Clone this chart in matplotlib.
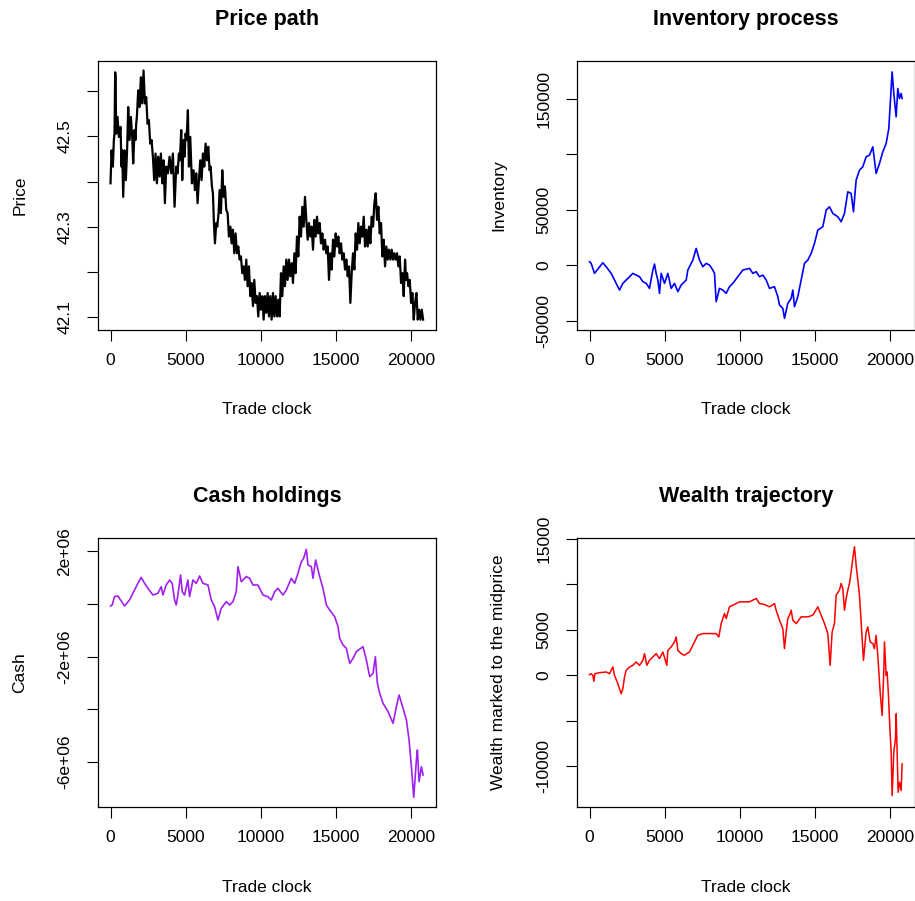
import numpy as np
import matplotlib.pyplot as plt

plt.rcParams['font.family'] = ['Liberation Sans', 'DejaVu Sans']

# price path (trade clock, price), read as the highs and lows of the dense path
price_points = [
    (0, 42.396), (67, 42.469), (155, 42.433), (222, 42.492), (266, 42.506), (310, 42.642),
    (333, 42.631), (377, 42.506), (466, 42.543), (554, 42.499), (665, 42.521), (732, 42.433),
    (776, 42.469), (842, 42.366), (931, 42.469), (1020, 42.403), (1109, 42.477), (1175, 42.565),
    (1264, 42.492), (1352, 42.543), (1441, 42.499), (1508, 42.440), (1596, 42.514),
    (1663, 42.492), (1707, 42.528), (1751, 42.543), (1840, 42.602), (1929, 42.565),
    (2017, 42.631), (2106, 42.573), (2195, 42.646), (2284, 42.573), (2372, 42.587),
    (2461, 42.528), (2550, 42.536), (2638, 42.484), (2727, 42.492), (2816, 42.455),
    (2904, 42.403), (2993, 42.462), (3082, 42.396), (3170, 42.455), (3259, 42.411),
    (3348, 42.462), (3436, 42.396), (3525, 42.447), (3614, 42.352), (3702, 42.433),
    (3813, 42.418), (3924, 42.455), (4035, 42.418), (4146, 42.462), (4257, 42.344),
    (4367, 42.433), (4456, 42.418), (4545, 42.462), (4611, 42.447), (4700, 42.514),
    (4767, 42.403), (4855, 42.492), (4922, 42.455), (4988, 42.506), (5055, 42.492),
    (5143, 42.558), (5210, 42.433), (5299, 42.499), (5409, 42.396), (5520, 42.425),
    (5609, 42.381), (5698, 42.418), (5786, 42.352), (5875, 42.403), (5964, 42.447),
    (6052, 42.403), (6141, 42.462), (6230, 42.433), (6318, 42.484), (6407, 42.447),
    (6496, 42.477), (6584, 42.425), (6651, 42.433), (6740, 42.389), (6806, 42.374),
    (6873, 42.308), (6939, 42.263), (7028, 42.308), (7094, 42.300), (7183, 42.330),
    (7250, 42.381), (7338, 42.330), (7427, 42.425), (7516, 42.366), (7604, 42.389),
    (7693, 42.337), (7782, 42.330), (7870, 42.278), (7959, 42.300), (8048, 42.263),
    (8136, 42.293), (8225, 42.241), (8314, 42.285), (8402, 42.241), (8491, 42.256),
    (8580, 42.227), (8668, 42.234), (8757, 42.197), (8846, 42.212), (8934, 42.182),
    (9023, 42.227), (9112, 42.168), (9201, 42.212), (9289, 42.146), (9378, 42.175),
    (9467, 42.124), (9555, 42.182), (9644, 42.131), (9733, 42.146), (9821, 42.101),
    (9910, 42.153), (9999, 42.116), (10087, 42.146), (10176, 42.094), (10265, 42.146),
    (10353, 42.109), (10442, 42.153), (10531, 42.101), (10619, 42.146), (10708, 42.094),
    (10797, 42.153), (10885, 42.101), (10974, 42.146), (11063, 42.101), (11151, 42.138),
    (11240, 42.101), (11329, 42.197), (11417, 42.146), (11506, 42.212), (11595, 42.168),
    (11683, 42.227), (11772, 42.182), (11861, 42.227), (11949, 42.190), (12038, 42.219),
    (12127, 42.175), (12215, 42.241), (12304, 42.197), (12393, 42.278), (12481, 42.234),
    (12570, 42.322), (12659, 42.278), (12747, 42.344), (12836, 42.300), (12925, 42.366),
    (13013, 42.315), (13102, 42.271), (13191, 42.308), (13279, 42.278), (13368, 42.300),
    (13457, 42.249), (13546, 42.315), (13634, 42.278), (13723, 42.322), (13812, 42.285),
    (13900, 42.308), (13989, 42.263), (14078, 42.285), (14166, 42.249), (14255, 42.271),
    (14344, 42.241), (14432, 42.256), (14521, 42.182), (14610, 42.241), (14698, 42.205),
    (14787, 42.271), (14876, 42.234), (14964, 42.285), (15053, 42.256), (15142, 42.278),
    (15231, 42.241), (15319, 42.263), (15408, 42.227), (15497, 42.241), (15585, 42.205),
    (15674, 42.227), (15763, 42.190), (15851, 42.212), (15940, 42.131), (16029, 42.197),
    (16117, 42.241), (16206, 42.205), (16295, 42.285), (16383, 42.249), (16472, 42.308),
    (16561, 42.263), (16649, 42.300), (16738, 42.278), (16827, 42.322), (16915, 42.256),
    (17004, 42.293), (17093, 42.256), (17181, 42.300), (17270, 42.263), (17359, 42.322),
    (17447, 42.300), (17536, 42.352), (17625, 42.374), (17713, 42.315), (17802, 42.344),
    (17891, 42.285), (17979, 42.308), (18068, 42.234), (18157, 42.271), (18245, 42.212),
    (18334, 42.256), (18423, 42.227), (18511, 42.249), (18600, 42.227), (18689, 42.249),
    (18777, 42.227), (18866, 42.241), (18955, 42.227), (19044, 42.241), (19132, 42.212),
    (19221, 42.234), (19310, 42.175), (19398, 42.197), (19487, 42.146), (19576, 42.227),
    (19642, 42.182), (19709, 42.197), (19798, 42.168), (19886, 42.182), (19975, 42.131),
    (20064, 42.153), (20152, 42.094), (20241, 42.131), (20330, 42.153), (20419, 42.094),
    (20507, 42.116), (20596, 42.094), (20685, 42.116), (20773, 42.094),
]

# inventory process
inv_t = [0, 111, 332, 886, 1108, 1440, 1661, 1994, 2215, 2437, 2880, 3323, 3544, 3766, 3987,
         4209, 4319, 4430, 4541, 4652, 4762, 4984, 5205, 5427, 5648, 5870, 6091, 6424, 6534,
         6867, 7088, 7310, 7531, 7753, 7974, 8196, 8306, 8417, 8639, 8860, 9082, 9303, 9525,
         9857, 10189, 10632, 10854, 11075, 11297, 11518, 11740, 11961, 12293, 12515, 12626,
         12847, 12958, 13179, 13401, 13512, 13622, 13844, 14065, 14287, 14508, 14730, 14951,
         15173, 15505, 15727, 15948, 16170, 16502, 16723, 16945, 17166, 17388, 17543, 17720,
         17942, 18163, 18385, 18606, 18828, 19049, 19271, 19492, 19714, 19891, 20001, 20112,
         20223, 20378, 20489, 20600, 20710, 20777]
inv_v = [3000, 1500, -7500, 2100, -1500, -7500, -13500, -22500, -16500, -13500, -7500, -10500,
         -15000, -16500, -21000, -4500, 900, -7500, -13500, -25500, -7500, -16500, -7500,
         -21000, -16500, -24000, -18000, -13500, -4500, 4500, 15000, 4500, -1500, 1500, 0,
         -4500, -7500, -33000, -21000, -22500, -25500, -19500, -16500, -10500, -4500, -3000,
         -7500, -6000, -10500, -9000, -13500, -21000, -19500, -28500, -36000, -39000, -48000,
         -34500, -30000, -22500, -37500, -28500, -13500, 1500, 4500, 10500, 19500, 31500, 34500,
         49500, 52500, 46500, 43500, 39000, 46500, 66000, 64500, 48000, 76500, 85500, 88500,
         97500, 99000, 106500, 82500, 91500, 102000, 109500, 123000, 148500, 174000, 154500,
         133500, 159000, 150000, 154500, 150000]

# cash holdings (trade clock, cash)
cash_points = [
    (0, -76000), (111, -38000), (266, 278000), (488, 304000), (931, -76000), (1264, 152000),
    (1596, 532000), (1818, 785000), (2040, 1013000), (2262, 785000), (2483, 595000),
    (2816, 342000), (3148, 405000), (3370, 658000), (3481, 342000), (3702, 722000),
    (3924, 911000), (4101, 785000), (4257, 152000), (4367, -38000), (4478, 342000),
    (4656, 1101000), (4767, 468000), (4922, 342000), (5143, 911000), (5254, 278000),
    (5476, 911000), (5698, 785000), (5919, 1063000), (6141, 785000), (6474, 722000),
    (6695, 152000), (6917, -101000), (7139, -608000), (7360, -165000), (7693, 89000),
    (7915, -38000), (8137, 89000), (8358, 468000), (8469, 1418000), (8691, 848000),
    (9023, 1038000), (9245, 975000), (9467, 722000), (9799, 722000), (10132, 342000),
    (10464, 278000), (10686, 152000), (10908, 468000), (11129, 595000), (11462, 342000),
    (11684, 532000), (12016, 975000), (12238, 785000), (12460, 1167000), (12681, 1608000),
    (12836, 1734000), (13013, 2076000), (13124, 1481000), (13346, 1418000), (13457, 975000),
    (13635, 1671000), (13901, 1038000), (14122, 595000), (14344, -38000), (14566, -228000),
    (14898, -481000), (15120, -861000), (15231, -1304000), (15452, -1557000),
    (15674, -1684000), (15896, -2253000), (16118, -2063000), (16339, -1810000),
    (16783, -1620000), (17004, -2127000), (17226, -2759000), (17448, -2633000),
    (17603, -2000000), (17736, -3013000), (17891, -3392000), (18113, -3772000),
    (18445, -4089000), (18778, -4532000), (18999, -3899000), (19177, -3456000),
    (19443, -3962000), (19665, -4405000), (19842, -5164000), (19997, -6177000),
    (20152, -7342000), (20330, -5924000), (20396, -5544000), (20507, -6747000),
    (20662, -6177000), (20773, -6494000),
]

# wealth marked to the midprice (trade clock, wealth)
wealth_points = [
    (0, 74), (111, 184), (222, 0), (288, -662), (354, 184), (665, 294), (1108, 368),
    (1329, 184), (1551, 919), (1661, 0), (1883, -919), (2104, -2022), (2215, -1470),
    (2326, -184), (2437, 551), (2658, 919), (2880, 1103), (3101, 1470), (3323, 1103),
    (3544, 1654), (3655, 2389), (3810, 1103), (3987, 1654), (4209, 2022), (4430, 2389),
    (4652, 1838), (4873, 2573), (5139, 1103), (5205, 2757), (5427, 3125), (5648, 3676),
    (5759, 4227), (5870, 2757), (6091, 2389), (6313, 2206), (6645, 2573), (6867, 3308),
    (7199, 4411), (7531, 4595), (7974, 4595), (8417, 4595), (8594, 4227), (8749, 5698),
    (8971, 6801), (9082, 6249), (9303, 7536), (9525, 7720), (9968, 8087), (10411, 8087),
    (10632, 8087), (11075, 8455), (11297, 7903), (11629, 7793), (11961, 7536), (12293, 7903),
    (12404, 7168), (12626, 6065), (12847, 5146), (12958, 2941), (13069, 4779), (13179, 6249),
    (13290, 6617), (13401, 7168), (13512, 6065), (13733, 5698), (14065, 6433), (14508, 6433),
    (14841, 6617), (15173, 7536), (15394, 6617), (15616, 5698), (15837, 4595), (15992, 1103),
    (16125, 4779), (16280, 5698), (16391, 8822), (16613, 9374), (16723, 10109), (16834, 9558),
    (16945, 7168), (17056, 8455), (17166, 9374), (17277, 10109), (17388, 11396),
    (17499, 12866), (17609, 14153), (17720, 12131), (17942, 8822), (18119, 4044),
    (18207, 1654), (18385, 4779), (18495, 5330), (18650, 3676), (18828, 3492), (18938, 2941),
    (19049, 4411), (19160, 2206), (19315, -1838), (19448, -4411), (19559, 551), (19603, 3676),
    (19714, 0), (19780, 368), (19869, -2206), (19935, -4779), (20046, -8455), (20112, -13234),
    (20223, -8455), (20334, -6984), (20378, -4227), (20444, -8455), (20511, -12866),
    (20600, -11763), (20710, -12682), (20777, -9741),
]

x_ticks = [0, 5000, 10000, 15000, 20000]
x_ticklabels = ['0', '5000', '10000', '15000', '20000']

price_ticks = [42.1, 42.2, 42.3, 42.4, 42.5, 42.6]
price_ticklabels = ['42.1', '', '42.3', '', '42.5', '']
inv_ticks = [-50000, 0, 50000, 100000, 150000]
inv_ticklabels = ['-50000', '0', '50000', '', '150000']
cash_ticks = [-6e6, -4e6, -2e6, 0, 2e6]
cash_ticklabels = ['-6e+06', '', '-2e+06', '', '2e+06']
wealth_ticks = [-10000, -5000, 0, 5000, 10000, 15000]
wealth_ticklabels = ['-10000', '', '0', '5000', '', '15000']

fig = plt.figure(figsize=(9.15, 9.01), dpi=100)

W, H = 915, 901
aw, ah = 338, 269


def make_ax(left, top):
    return fig.add_axes([left / W, 1 - (top + ah) / H, aw / W, ah / H])


def style(ax, title, ylabel, yticks, yticklabels, ylim):
    ax.set_xlim(-832, 21632)
    ax.set_ylim(*ylim)
    ax.set_xticks(x_ticks)
    ax.set_xticklabels(x_ticklabels)
    ax.set_yticks(yticks)
    ax.set_yticklabels(yticklabels, rotation=90, va='center', ha='center')
    ax.tick_params(length=8, width=0.8, direction='out', labelsize=12.5, colors='black')
    ax.tick_params(axis='x', pad=8.5)
    ax.tick_params(axis='y', pad=16)
    for sp in ax.spines.values():
        sp.set_linewidth(0.9)
    ax.set_title(title, fontsize=15.5, fontweight='bold', pad=26)
    ax.set_xlabel('Trade clock', fontsize=12.5)
    ax.xaxis.set_label_coords(0.5, -80 / ah)
    ax.xaxis.label.set_va('center')
    ax.set_ylabel(ylabel, fontsize=12.5)
    ax.yaxis.set_label_coords(-78 / aw, 0.5)
    ax.yaxis.label.set_va('center')


price_t, price_v = zip(*price_points)
ax1 = make_ax(98, 61)
ax1.plot(price_t, price_v, color='black', lw=1.6)
style(ax1, 'Price path', 'Price', price_ticks, price_ticklabels, (42.071, 42.667))

ax2 = make_ax(577, 61)
ax2.plot(inv_t, inv_v, color='#0000FF', lw=1.2)
style(ax2, 'Inventory process', 'Inventory', inv_ticks, inv_ticklabels, (-58500, 183800))

cash_t, cash_v = zip(*cash_points)
ax3 = make_ax(98, 538)
ax3.plot(cash_t, cash_v, color='#A020F0', lw=1.2)
style(ax3, 'Cash holdings', 'Cash', cash_ticks, cash_ticklabels, (-7.709e6, 2.506e6))

wealth_t, wealth_v = zip(*wealth_points)
ax4 = make_ax(577, 538)
ax4.plot(wealth_t, wealth_v, color='#FF0000', lw=1.1)
style(ax4, 'Wealth trajectory', 'Wealth marked to the midprice', wealth_ticks,
      wealth_ticklabels, (-14485, 15110))

fig.savefig('out.png', dpi=100)
